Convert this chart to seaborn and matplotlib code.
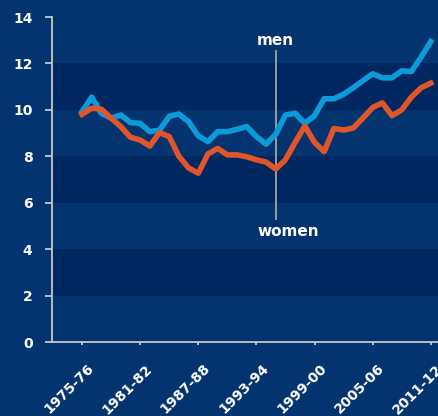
import pandas as pd
import seaborn as sns
import matplotlib.pyplot as plt
from matplotlib.transforms import ScaledTranslation

# seasons 1975-76 .. 2011-12
start_years = list(range(1975, 2012))
seasons = [f"{y}-{str(y + 1)[-2:]}" for y in start_years]

men = [9.92, 10.55, 9.85, 9.64, 9.78, 9.45, 9.42, 9.06, 9.13, 9.72,
       9.82, 9.49, 8.88, 8.63, 9.06, 9.06, 9.16, 9.28, 8.85, 8.52,
       8.95, 9.78, 9.85, 9.42, 9.75, 10.48, 10.48, 10.67, 10.95, 11.26,
       11.55, 11.38, 11.38, 11.68, 11.65, 12.27, 12.94]
women = [9.81, 10.07, 10.03, 9.64, 9.28, 8.82, 8.70, 8.44, 9.02, 8.85,
         8.00, 7.50, 7.27, 8.10, 8.34, 8.06, 8.06, 7.98, 7.85, 7.75,
         7.45, 7.85, 8.60, 9.30, 8.60, 8.20, 9.20, 9.13, 9.22, 9.65,
         10.10, 10.30, 9.75, 10.00, 10.55, 10.95, 11.15]

tick_seasons = ["1975-76", "1981-82", "1987-88", "1993-94",
                "1999-00", "2005-06", "2011-12"]
y_ticks = [0, 2, 4, 6, 8, 10, 12, 14]

BG = "#04346f"
BAND = "#00275f"
SPINE = "#c8c8c8"
palette = {"men": "#0b9bd9", "women": "#e0562a"}

df = pd.DataFrame({
    "idx": list(range(len(seasons))) * 2,
    "value": men + women,
    "group": ["men"] * len(men) + ["women"] * len(women),
})

fig = plt.figure(figsize=(4.39, 4.16), dpi=100, facecolor=BG)
ax = fig.add_axes([52 / 439, 1 - 342 / 416, 1 - 52 / 439, (342 - 17) / 416])
ax.set_facecolor(BG)

for lo in [2, 6, 10]:
    ax.axhspan(lo, lo + 2, color=BAND, lw=0, zorder=0)

sns.lineplot(data=df, x="idx", y="value", hue="group", palette=palette,
             linewidth=4, legend=False, ax=ax, zorder=3)

# pointer between the two labels
ann_x = seasons.index("1995-96")
ax.plot([ann_x, ann_x], [5.3, 12.54], color="#a4a4a4", lw=1.3, zorder=1)
ax.text(18.06, 13.0, "men", ha="left", va="center", color="white",
        fontsize=11, fontweight="bold")
ax.text(18.06, 4.74, "women", ha="left", va="center", color="white",
        fontsize=11, fontweight="bold")

ax.set_xlim(-3.1, 36.85)
ax.set_ylim(0, 14)
ax.set_xticks([seasons.index(s) for s in tick_seasons])
ax.set_xticklabels(tick_seasons, rotation=45, ha="right", rotation_mode="anchor")
ax.set_yticks(y_ticks)
ax.set_xlabel("")
ax.set_ylabel("")

for side in ["top", "right"]:
    ax.spines[side].set_visible(False)
for side in ["left", "bottom"]:
    ax.spines[side].set_color(SPINE)
    ax.spines[side].set_linewidth(1.3)

ax.tick_params(axis="y", colors=SPINE, length=5, width=1.3, pad=9,
               labelcolor="white", labelsize=10)
ax.tick_params(axis="x", colors=SPINE, length=2.5, width=1.3, pad=11.5,
               labelcolor="white", labelsize=10)
shift = ScaledTranslation(5 / 100, 0, fig.dpi_scale_trans)
for lbl in ax.get_xticklabels():
    lbl.set_fontweight("bold")
    lbl.set_transform(lbl.get_transform() + shift)
for lbl in ax.get_yticklabels():
    lbl.set_fontweight("bold")

fig.savefig("out.png", dpi=100, facecolor=BG)
